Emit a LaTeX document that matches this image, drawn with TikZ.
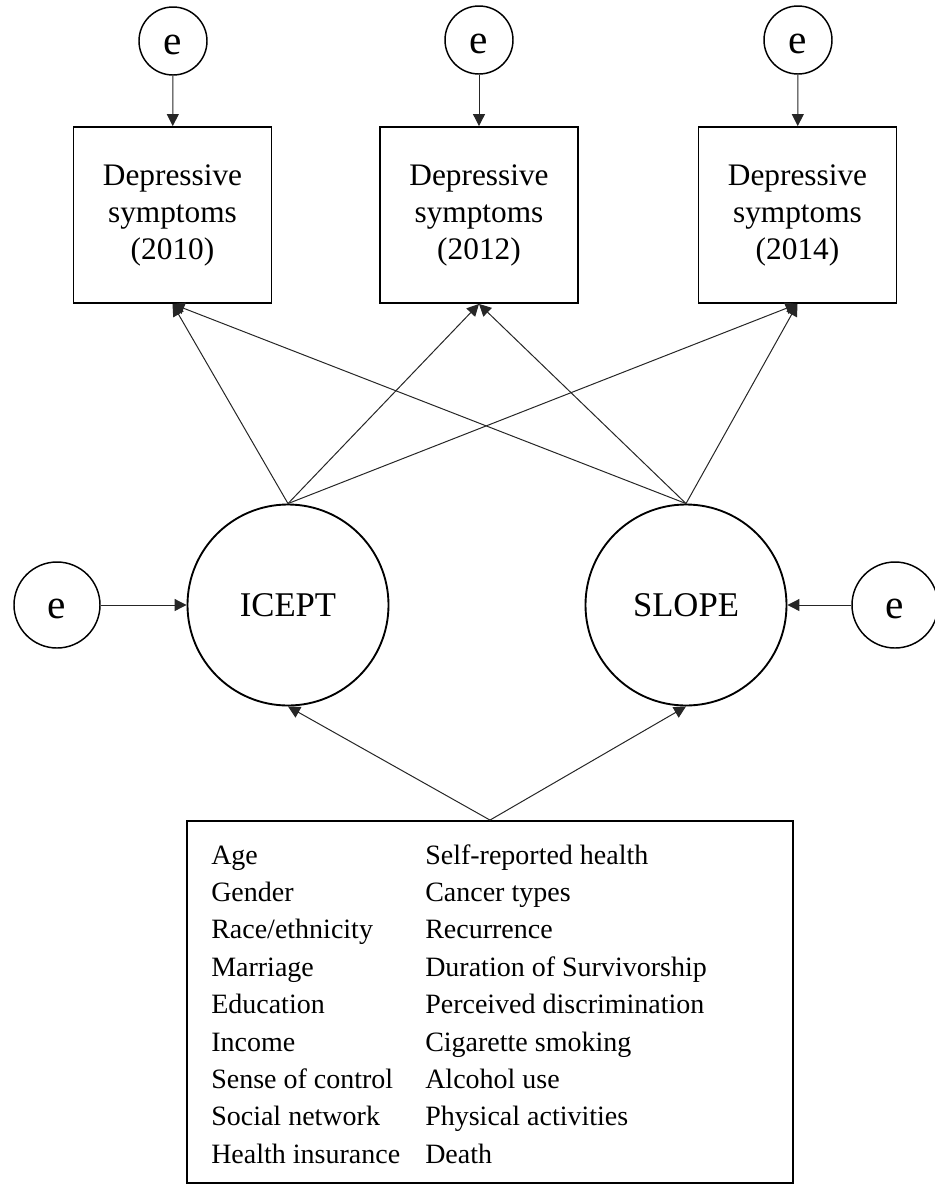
\documentclass[tikz,border=0pt]{standalone}
\usepackage{fontspec}
\setmainfont{Liberation Serif}
\usetikzlibrary{arrows.meta,positioning}
\tikzset{
  obsbox/.style={draw,line width=1.4pt,minimum width=148.5pt,minimum height=132pt,
    align=center,inner sep=0pt,font=\fontsize{23.5}{27.75}\selectfont},
  latent/.style={draw,circle,line width=1.4pt,minimum size=150.75pt,inner sep=0pt,
    font=\fontsize{26}{30}\selectfont},
  errtop/.style={draw,circle,line width=1.1pt,minimum size=51pt,inner sep=0pt,
    text height=20pt,text depth=0pt,font=\fontsize{31}{33}\selectfont},
  errside/.style={errtop,minimum size=64.5pt},
  conn/.style={-{Triangle[length=9pt,width=9pt]},line width=0.75pt,black!85},
  covbox/.style={draw,line width=1.4pt,minimum width=454.5pt,minimum height=271.5pt,inner sep=0pt},
  covtext/.style={anchor=base west,inner sep=0pt,font=\fontsize{21}{28}\selectfont}
}
\begin{document}
\begin{tikzpicture}[x=0.75pt,y=-0.75pt]
  \useasboundingbox (0,0) rectangle (935,1186);
  % repeated measures
  \node[obsbox] (d10) at (172.5,215) {Depressive\\symptoms\\(2010)};
  \node[obsbox] (d12) at (479,215) {Depressive\\symptoms\\(2012)};
  \node[obsbox] (d14) at (797.5,215) {Depressive\\symptoms\\(2014)};
  \node[errtop] (e10) at (173,41) {e};
  \node[errtop] (e12) at (479,40) {e};
  \node[errtop] (e14) at (798,40) {e};
  \foreach \yr in {10,12,14}{
    \draw[conn] (e\yr) -- (d\yr);
  }
  % growth factors
  \node[latent] (icept) at (288,605) {ICEPT};
  \node[latent] (slope) at (686,605) {SLOPE};
  \node[errside] (eic) at (57,605) {e};
  \node[errside] (esl) at (895,605) {e};
  \draw[conn] (eic) -- (icept);
  \draw[conn] (esl) -- (slope);
  \foreach \yr in {10,12,14}{
    \draw[conn] (icept.north) -- (d\yr.south);
    \draw[conn] (slope.north) -- (d\yr.south);
  }
  % covariates
  \node[covbox] (cov) at (490,1002) {};
  \foreach \i/\ta/\tb in {0/Age/Self-reported health,1/Gender/Cancer types,
      2/Race\slash ethnicity/Recurrence,3/Marriage/Duration of Survivorship,
      4/Education/Perceived discrimination,5/Income/Cigarette smoking,
      6/Sense of control/Alcohol use,7/Social network/Physical activities,
      8/Health insurance/Death}{
    \node[covtext] (ca\i) at (211,{864+37.4*\i}) {\ta};
    \node[covtext] (cb\i) at (425,{864+37.4*\i}) {\tb};
  }
  \draw[conn] (cov.north) -- (icept.south);
  \draw[conn] (cov.north) -- (slope.south);
\end{tikzpicture}
\end{document}
